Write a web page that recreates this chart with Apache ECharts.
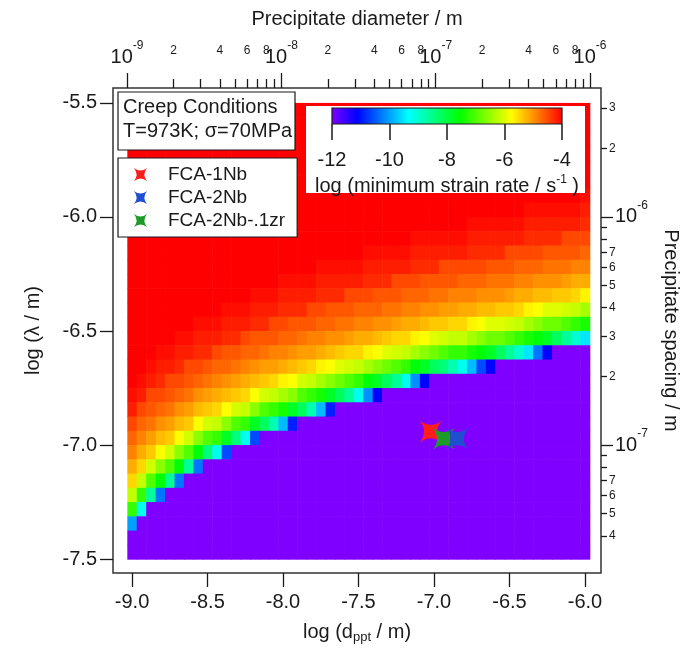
<!DOCTYPE html>
<html><head><meta charset="utf-8">
<script src="https://cdn.jsdelivr.net/npm/echarts@6/dist/echarts.min.js"></script>
<style>html,body{margin:0;padding:0;background:#fff}#c{width:690px;height:649px}</style>
</head><body><div id="c"></div>
<script>
// ---- grid of the map: cell centres ----
const logDiameter = [-9,-8.9375,-8.875,-8.8125,-8.75,-8.6875,-8.625,-8.5625,-8.5,-8.4375,-8.375,-8.3125,-8.25,-8.1875,-8.125,-8.0625,-8,-7.9375,-7.875,-7.8125,-7.75,-7.6875,-7.625,-7.5625,-7.5,-7.4375,-7.375,-7.3125,-7.25,-7.1875,-7.125,-7.0625,-7,-6.9375,-6.875,-6.8125,-6.75,-6.6875,-6.625,-6.5625,-6.5,-6.4375,-6.375,-6.3125,-6.25,-6.1875,-6.125,-6.0625,-6];
const logSpacing = [-5.53125,-5.59375,-5.65625,-5.71875,-5.78125,-5.84375,-5.90625,-5.96875,-6.03125,-6.09375,-6.15625,-6.21875,-6.28125,-6.34375,-6.40625,-6.46875,-6.53125,-6.59375,-6.65625,-6.71875,-6.78125,-6.84375,-6.90625,-6.96875,-7.03125,-7.09375,-7.15625,-7.21875,-7.28125,-7.34375,-7.40625,-7.46875];
const cellWidth = 0.0625, cellHeight = 0.0625;
// ---- log(minimum strain rate) per row (top -> bottom), per column (left -> right) ----
const logStrainRate = [
[-4,-4,-4,-4,-4,-4,-4,-4,-4,-4,-4,-4,-4,-4,-4,-4,-4,-4,-4,-4,-4,-4,-4,-4,-4,-4,-4,-4,-4,-4,-4,-4,-4,-4,-4,-4,-4,-4,-4,-4,-4,-4,-4,-4,-4,-4,-4,-4,-4],
[-4,-4,-4,-4,-4,-4,-4,-4,-4,-4,-4,-4,-4,-4,-4,-4,-4,-4,-4,-4,-4,-4,-4,-4,-4,-4,-4,-4,-4,-4,-4,-4,-4,-4,-4,-4,-4,-4,-4,-4,-4,-4,-4,-4,-4,-4,-4,-4,-4],
[-4,-4,-4,-4,-4,-4,-4,-4,-4,-4,-4,-4,-4,-4,-4,-4,-4,-4,-4,-4,-4,-4,-4,-4,-4,-4,-4,-4,-4,-4,-4,-4,-4,-4,-4,-4,-4,-4,-4,-4,-4,-4,-4,-4,-4,-4,-4,-4,-4],
[-4,-4,-4,-4,-4,-4,-4,-4,-4,-4,-4,-4,-4,-4,-4,-4,-4,-4,-4,-4,-4,-4,-4,-4,-4,-4,-4,-4,-4,-4,-4,-4,-4,-4,-4,-4,-4,-4,-4,-4,-4,-4,-4,-4,-4,-4,-4,-4,-4],
[-4,-4,-4,-4,-4,-4,-4,-4,-4,-4,-4,-4,-4,-4,-4,-4,-4,-4,-4,-4,-4,-4,-4,-4,-4,-4,-4,-4,-4,-4,-4,-4,-4,-4,-4,-4,-4,-4,-4,-4,-4,-4,-4,-4,-4,-4,-4,-4,-4],
[-4,-4,-4,-4,-4,-4,-4,-4,-4,-4,-4,-4,-4,-4,-4,-4,-4,-4,-4,-4,-4,-4,-4,-4,-4,-4,-4,-4,-4,-4,-4,-4,-4,-4,-4,-4,-4,-4,-4,-4,-4,-4,-4,-4,-4,-4,-4,-4,-4],
[-4,-4,-4,-4,-4,-4,-4,-4,-4,-4,-4,-4,-4,-4,-4,-4,-4,-4,-4,-4,-4,-4,-4,-4,-4,-4,-4,-4,-4,-4,-4,-4,-4,-4,-4,-4,-4,-4,-4,-4,-4,-4,-4,-4,-4,-4,-4,-4,-4.1],
[-4,-4,-4,-4,-4,-4,-4,-4,-4,-4,-4,-4,-4,-4,-4,-4,-4,-4,-4,-4,-4,-4,-4,-4,-4,-4,-4,-4,-4,-4,-4,-4,-4,-4,-4,-4,-4,-4,-4,-4,-4,-4,-4.1,-4.1,-4.1,-4.1,-4.1,-4.1,-4.2],
[-4,-4,-4,-4,-4,-4,-4,-4,-4,-4,-4,-4,-4,-4,-4,-4,-4,-4,-4,-4,-4,-4,-4,-4,-4,-4,-4,-4,-4,-4,-4,-4,-4,-4,-4,-4,-4.1,-4.1,-4.1,-4.1,-4.1,-4.1,-4.2,-4.2,-4.2,-4.2,-4.2,-4.2,-4.3],
[-4,-4,-4,-4,-4,-4,-4,-4,-4,-4,-4,-4,-4,-4,-4,-4,-4,-4,-4,-4,-4,-4,-4,-4,-4,-4,-4,-4,-4,-4,-4.1,-4.1,-4.1,-4.1,-4.1,-4.1,-4.2,-4.2,-4.2,-4.2,-4.2,-4.2,-4.3,-4.3,-4.3,-4.3,-4.5,-4.5,-4.5],
[-4,-4,-4,-4,-4,-4,-4,-4,-4,-4,-4,-4,-4,-4,-4,-4,-4,-4,-4,-4,-4,-4,-4,-4,-4,-4.1,-4.1,-4.1,-4.1,-4.1,-4.2,-4.2,-4.2,-4.2,-4.2,-4.2,-4.3,-4.3,-4.3,-4.3,-4.5,-4.5,-4.5,-4.5,-4.6,-4.6,-4.6,-4.6,-4.7],
[-4,-4,-4,-4,-4,-4,-4,-4,-4,-4,-4,-4,-4,-4,-4,-4,-4,-4,-4,-4,-4.1,-4.1,-4.1,-4.1,-4.1,-4.2,-4.2,-4.2,-4.2,-4.2,-4.3,-4.3,-4.3,-4.5,-4.5,-4.5,-4.5,-4.5,-4.6,-4.6,-4.6,-4.7,-4.7,-4.7,-4.8,-4.8,-4.8,-4.9,-4.9],
[-4,-4,-4,-4,-4,-4,-4,-4,-4,-4,-4,-4,-4,-4,-4,-4,-4.1,-4.1,-4.1,-4.1,-4.2,-4.2,-4.2,-4.2,-4.2,-4.3,-4.3,-4.3,-4.5,-4.5,-4.5,-4.6,-4.6,-4.6,-4.6,-4.7,-4.7,-4.7,-4.8,-4.8,-4.8,-4.9,-4.9,-5,-5,-5,-5.1,-5.2,-5.2],
[-4,-4,-4,-4,-4,-4,-4,-4,-4,-4,-4,-4,-4,-4.1,-4.1,-4.1,-4.2,-4.2,-4.2,-4.2,-4.3,-4.3,-4.3,-4.5,-4.5,-4.5,-4.6,-4.6,-4.6,-4.7,-4.7,-4.7,-4.8,-4.8,-4.9,-4.9,-4.9,-5,-5,-5,-5.1,-5.2,-5.2,-5.3,-5.3,-5.4,-5.4,-5.5,-5.7],
[-4,-4,-4,-4,-4,-4,-4,-4,-4,-4,-4.1,-4.1,-4.1,-4.2,-4.2,-4.2,-4.3,-4.3,-4.3,-4.5,-4.5,-4.6,-4.6,-4.6,-4.7,-4.7,-4.7,-4.8,-4.8,-4.9,-4.9,-5,-5,-5.1,-5.1,-5.2,-5.2,-5.3,-5.3,-5.4,-5.4,-5.5,-5.7,-5.8,-6,-6,-6.1,-6.2,-6.4],
[-4,-4,-4,-4,-4,-4,-4,-4.1,-4.1,-4.1,-4.2,-4.2,-4.2,-4.3,-4.3,-4.5,-4.5,-4.6,-4.6,-4.6,-4.7,-4.7,-4.8,-4.8,-4.9,-4.9,-5,-5,-5.1,-5.2,-5.2,-5.3,-5.4,-5.4,-5.5,-5.5,-5.7,-5.8,-6,-6,-6.1,-6.2,-6.4,-6.6,-6.8,-6.8,-7,-7.2,-7.4],
[-4,-4,-4,-4,-4,-4.1,-4.1,-4.2,-4.2,-4.2,-4.3,-4.3,-4.5,-4.6,-4.6,-4.6,-4.7,-4.7,-4.8,-4.9,-4.9,-5,-5,-5.1,-5.2,-5.2,-5.3,-5.4,-5.5,-5.5,-5.7,-5.8,-6,-6.1,-6.2,-6.2,-6.4,-6.6,-6.8,-6.8,-7,-7.2,-7.4,-7.6,-7.8,-8.2,-8.6,-9,-9.5],
[-4,-4,-4,-4.1,-4.1,-4.2,-4.2,-4.3,-4.3,-4.5,-4.6,-4.6,-4.7,-4.7,-4.8,-4.9,-4.9,-5,-5.1,-5.1,-5.2,-5.3,-5.4,-5.5,-5.5,-5.7,-5.8,-6,-6.1,-6.2,-6.4,-6.6,-6.8,-7,-7.2,-7.2,-7.4,-7.6,-7.8,-8.2,-8.6,-9,-9.5,-10.3,-11.1,-12,-12,-12,-12],
[-4,-4,-4.1,-4.2,-4.2,-4.3,-4.5,-4.5,-4.6,-4.7,-4.7,-4.8,-4.9,-5,-5.1,-5.1,-5.2,-5.3,-5.4,-5.5,-5.7,-5.8,-6,-6.1,-6.2,-6.4,-6.6,-6.8,-7,-7.2,-7.6,-7.8,-8.2,-8.4,-8.8,-9.2,-9.8,-10.6,-11.1,-12,-12,-12,-12,-12,-12,-12,-12,-12,-12],
[-4,-4.1,-4.2,-4.3,-4.5,-4.5,-4.6,-4.7,-4.8,-4.9,-5,-5.1,-5.2,-5.3,-5.4,-5.5,-5.7,-5.8,-6.1,-6.2,-6.4,-6.6,-6.8,-7,-7.2,-7.6,-7.8,-8.2,-8.6,-9.2,-10.1,-11.1,-12,-12,-12,-12,-12,-12,-12,-12,-12,-12,-12,-12,-12,-12,-12,-12,-12],
[-4.1,-4.2,-4.5,-4.5,-4.6,-4.7,-4.8,-5,-5.1,-5.2,-5.3,-5.4,-5.5,-5.8,-6.1,-6.2,-6.4,-6.6,-7,-7.2,-7.4,-7.8,-8.2,-8.6,-9.2,-10.1,-11.1,-12,-12,-12,-12,-12,-12,-12,-12,-12,-12,-12,-12,-12,-12,-12,-12,-12,-12,-12,-12,-12,-12],
[-4.2,-4.5,-4.6,-4.7,-4.8,-5,-5.1,-5.3,-5.4,-5.5,-5.8,-6.1,-6.2,-6.6,-7,-7.2,-7.4,-7.8,-8.2,-8.8,-9.8,-10.9,-12,-12,-12,-12,-12,-12,-12,-12,-12,-12,-12,-12,-12,-12,-12,-12,-12,-12,-12,-12,-12,-12,-12,-12,-12,-12,-12],
[-4.5,-4.7,-4.8,-5,-5.1,-5.3,-5.4,-5.8,-6.1,-6.2,-6.6,-7,-7.2,-7.8,-8.2,-8.8,-9.8,-10.9,-12,-12,-12,-12,-12,-12,-12,-12,-12,-12,-12,-12,-12,-12,-12,-12,-12,-12,-12,-12,-12,-12,-12,-12,-12,-12,-12,-12,-12,-12,-12],
[-4.7,-4.9,-5.1,-5.3,-5.4,-5.8,-6.1,-6.6,-7,-7.2,-7.8,-8.4,-9.2,-10.6,-12,-12,-12,-12,-12,-12,-12,-12,-12,-12,-12,-12,-12,-12,-12,-12,-12,-12,-12,-12,-12,-12,-12,-12,-12,-12,-12,-12,-12,-12,-12,-12,-12,-12,-12],
[-4.9,-5.2,-5.4,-5.8,-6.1,-6.6,-7,-7.6,-8.4,-9.2,-10.6,-12,-12,-12,-12,-12,-12,-12,-12,-12,-12,-12,-12,-12,-12,-12,-12,-12,-12,-12,-12,-12,-12,-12,-12,-12,-12,-12,-12,-12,-12,-12,-12,-12,-12,-12,-12,-12,-12],
[-5.2,-5.5,-6.1,-6.6,-7,-7.6,-8.6,-10.3,-12,-12,-12,-12,-12,-12,-12,-12,-12,-12,-12,-12,-12,-12,-12,-12,-12,-12,-12,-12,-12,-12,-12,-12,-12,-12,-12,-12,-12,-12,-12,-12,-12,-12,-12,-12,-12,-12,-12,-12,-12],
[-5.5,-6.2,-7,-7.6,-8.6,-10.3,-12,-12,-12,-12,-12,-12,-12,-12,-12,-12,-12,-12,-12,-12,-12,-12,-12,-12,-12,-12,-12,-12,-12,-12,-12,-12,-12,-12,-12,-12,-12,-12,-12,-12,-12,-12,-12,-12,-12,-12,-12,-12,-12],
[-6.2,-7.2,-8.6,-10.3,-12,-12,-12,-12,-12,-12,-12,-12,-12,-12,-12,-12,-12,-12,-12,-12,-12,-12,-12,-12,-12,-12,-12,-12,-12,-12,-12,-12,-12,-12,-12,-12,-12,-12,-12,-12,-12,-12,-12,-12,-12,-12,-12,-12,-12],
[-7.2,-9.2,-12,-12,-12,-12,-12,-12,-12,-12,-12,-12,-12,-12,-12,-12,-12,-12,-12,-12,-12,-12,-12,-12,-12,-12,-12,-12,-12,-12,-12,-12,-12,-12,-12,-12,-12,-12,-12,-12,-12,-12,-12,-12,-12,-12,-12,-12,-12],
[-10,-12,-12,-12,-12,-12,-12,-12,-12,-12,-12,-12,-12,-12,-12,-12,-12,-12,-12,-12,-12,-12,-12,-12,-12,-12,-12,-12,-12,-12,-12,-12,-12,-12,-12,-12,-12,-12,-12,-12,-12,-12,-12,-12,-12,-12,-12,-12,-12],
[-12,-12,-12,-12,-12,-12,-12,-12,-12,-12,-12,-12,-12,-12,-12,-12,-12,-12,-12,-12,-12,-12,-12,-12,-12,-12,-12,-12,-12,-12,-12,-12,-12,-12,-12,-12,-12,-12,-12,-12,-12,-12,-12,-12,-12,-12,-12,-12,-12],
[-12,-12,-12,-12,-12,-12,-12,-12,-12,-12,-12,-12,-12,-12,-12,-12,-12,-12,-12,-12,-12,-12,-12,-12,-12,-12,-12,-12,-12,-12,-12,-12,-12,-12,-12,-12,-12,-12,-12,-12,-12,-12,-12,-12,-12,-12,-12,-12,-12]
];
// ---- colour scale ----
const colorRange = [-12, -4];
const colorbarTicks = [-12, -10, -8, -6, -4];
const rainbow = ['#8000ff','#0000ff','#0080ff','#00ffff','#00ff80','#00ff00','#80ff00','#ffff00','#ff8000','#ff0000'];
// ---- measured alloys ----
const sampleNames = ['FCA-1Nb', 'FCA-2Nb', 'FCA-2Nb-.1zr'];
const sampleLogD = [-7.022, -6.846, -6.936];
const sampleLogLambda = [-6.941, -6.972, -6.972];
const sampleColors = ['#ff1c1c', '#1f4fd0', '#1c9a2a'];
// ---- axis ticks ----
const bottomTicks = [-9, -8.5, -8, -7.5, -7, -6.5, -6];
const leftTicks = [-7.5, -7, -6.5, -6, -5.5];
const topDecades = [-9, -8, -7, -6];
const topMinorMantissas = [2, 3, 4, 5, 6, 7, 8, 9];
const topLabelMantissas = [2, 4, 6, 8];
const rightDecades = [-7, -6];
const rightMinorTicks = [4e-8,5e-8,6e-8,7e-8,8e-8,9e-8,2e-7,3e-7,4e-7,5e-7,6e-7,7e-7,8e-7,9e-7,2e-6,3e-6];
const rightLabelTicks = [4e-8,5e-8,6e-8,7e-8,2e-7,3e-7,4e-7,5e-7,6e-7,7e-7,2e-6,3e-6];

const FONT = '"Liberation Sans", Arial, sans-serif';
const INK = '#1a1a1a';
// axis ranges (log10 units)
const xMin = -9.126, xMax = -5.894;     // bottom axis
const tMin = -9.091, tMax = -5.929;     // top axis (diameter)
const yMin = -7.561, yMax = -5.4345;    // left + right axes

const topMinorVals = [];
topDecades.slice(0, 3).forEach(d => topMinorMantissas.forEach(m => topMinorVals.push(d + Math.log10(m))));
const topLabelVals = [];
topDecades.slice(0, 3).forEach(d => topLabelMantissas.forEach(m => topLabelVals.push(d + Math.log10(m))));
const rightMinorVals = rightMinorTicks.map(v => Math.log10(v));
const rightLabelVals = rightLabelTicks.map(v => Math.log10(v));
const mantissa = v => String(Math.round(Math.pow(10, v - Math.floor(v + 1e-9))));
const sciRich = {
  b: {fontSize: 20, fontFamily: FONT, color: INK, lineHeight: 34},
  s: {fontSize: 12, fontFamily: FONT, color: INK, lineHeight: 14, verticalAlign: 'top'}
};

const heatData = [];
logSpacing.forEach((y, r) => logDiameter.forEach((x, c) => heatData.push([x, y, logStrainRate[r][c]])));

const starPath = 'path://M0,0Q50,40,100,0Q60,50,100,100Q50,60,0,100Q40,50,0,0Z';

const chart = echarts.init(document.getElementById('c'), null, {renderer: 'canvas'});
const tickStyle = {color: INK, width: 1.3};

chart.setOption({
  animation: false,
  backgroundColor: '#fff',
  textStyle: {fontFamily: FONT},
  grid: [
    {left: 113, top: 88, right: 89, bottom: 74, show: true, borderColor: '#333', borderWidth: 1.5, backgroundColor: '#fff'},
    {left: 332, top: 108, width: 230, height: 16}
  ],
  xAxis: [
    {gridIndex: 0, type: 'value', position: 'bottom', min: xMin, max: xMax,
     axisLine: {show: false}, splitLine: {show: false},
     axisTick: {show: true, customValues: bottomTicks, length: 14, lineStyle: tickStyle},
     axisLabel: {customValues: bottomTicks, formatter: v => v.toFixed(1), fontSize: 20, color: INK, margin: 19, fontFamily: FONT},
     name: 'log (d{sub|ppt} / m)', nameLocation: 'middle', nameGap: 47,
     nameTextStyle: {fontSize: 20, color: INK, fontFamily: FONT, lineHeight: 24,
       rich: {sub: {fontSize: 13, fontFamily: FONT, color: INK, lineHeight: 12, verticalAlign: 'bottom'}}}},
    {gridIndex: 0, type: 'value', position: 'top', min: tMin, max: tMax,
     axisLine: {show: false}, splitLine: {show: false},
     axisTick: {show: true, customValues: topDecades, length: 15, lineStyle: tickStyle},
     axisLabel: {customValues: topDecades, formatter: v => '{b|10}{s|' + Math.round(v) + '}', rich: sciRich, margin: 14},
     name: 'Precipitate diameter / m', nameLocation: 'middle', nameGap: 59,
     nameTextStyle: {fontSize: 20, color: INK, fontFamily: FONT}},
    {gridIndex: 0, type: 'value', position: 'top', min: tMin, max: tMax,
     axisLine: {show: false}, splitLine: {show: false},
     axisTick: {show: true, customValues: topMinorVals, length: 9, lineStyle: tickStyle},
     axisLabel: {customValues: topLabelVals, formatter: mantissa, fontSize: 12, color: INK, margin: 31, fontFamily: FONT}},
    {gridIndex: 1, type: 'value', position: 'bottom', min: colorRange[0], max: colorRange[1], interval: 2, z: 6,
     axisLine: {show: false}, splitLine: {show: false},
     axisTick: {show: true, length: 16, lineStyle: {color: INK, width: 1.5}},
     axisLabel: {fontSize: 20, color: INK, margin: 26, fontFamily: FONT, showMinLabel: true, showMaxLabel: true},
     name: 'log (minimum strain rate / s{sup|-1} )', nameLocation: 'middle', nameGap: 50,
     nameTextStyle: {fontSize: 20, color: INK, fontFamily: FONT, lineHeight: 24,
       rich: {sup: {fontSize: 12, fontFamily: FONT, color: INK, lineHeight: 12, verticalAlign: 'top'}}}}
  ],
  yAxis: [
    {gridIndex: 0, type: 'value', position: 'left', min: yMin, max: yMax,
     axisLine: {show: false}, splitLine: {show: false},
     axisTick: {show: true, customValues: leftTicks, length: 13, lineStyle: tickStyle},
     axisLabel: {customValues: leftTicks, formatter: v => v.toFixed(1), fontSize: 20, color: INK, margin: 16, fontFamily: FONT},
     name: 'log (\u03bb / m)', nameLocation: 'middle', nameRotate: 90, nameGap: 70,
     nameTextStyle: {fontSize: 20, color: INK, fontFamily: FONT}},
    {gridIndex: 0, type: 'value', position: 'right', min: yMin, max: yMax, offset: 0,
     axisLine: {show: false}, splitLine: {show: false},
     axisTick: {show: true, customValues: rightDecades, length: 12, lineStyle: tickStyle},
     axisLabel: {customValues: rightDecades, formatter: v => '{b|10}{s|' + Math.round(v) + '}', rich: sciRich, margin: 14}},
    {gridIndex: 0, type: 'value', position: 'right', min: yMin, max: yMax, offset: 0,
     axisLine: {show: false}, splitLine: {show: false},
     axisTick: {show: true, customValues: rightMinorVals, length: 6, lineStyle: tickStyle},
     axisLabel: {customValues: rightLabelVals, formatter: mantissa, fontSize: 12, color: INK, margin: 8, fontFamily: FONT},
     name: 'Precipitate spacing / m', nameLocation: 'middle', nameRotate: -90, nameGap: 60,
     nameTextStyle: {fontSize: 20, color: INK, fontFamily: FONT}},
    {gridIndex: 1, type: 'value', min: 0, max: 1, show: false}
  ],
  visualMap: {type: 'continuous', show: false, seriesIndex: 0, dimension: 2,
    min: colorRange[0], max: colorRange[1], inRange: {color: rainbow}},
  legend: {
    orient: 'vertical', left: 118, top: 158, z: 6,
    data: sampleNames.map(n => ({name: n, icon: starPath})),
    itemWidth: 13, itemHeight: 13, itemGap: 4,
    padding: [7, 12, 7, 16],
    backgroundColor: '#fff', borderColor: INK, borderWidth: 1.2,
    textStyle: {fontSize: 19, color: INK, fontFamily: FONT, padding: [0, 0, 0, 16]}
  },
  graphic: [
    {type: 'rect', z: 3, shape: {x: 306, y: 106, width: 279, height: 87}, style: {fill: '#fff'}},
    {type: 'rect', z: 10, shape: {x: 118, y: 92, width: 177, height: 58}, style: {fill: '#fff', stroke: INK, lineWidth: 1.2}},
    {type: 'text', z: 11, x: 123, y: 97, style: {text: 'Creep Conditions', font: '20px ' + FONT, fill: INK}},
    {type: 'text', z: 11, x: 123, y: 121, style: {text: 'T=973K; \u03c3=70MPa', font: '20px ' + FONT, fill: INK}}
  ],
  series: [
    {type: 'custom', xAxisIndex: 0, yAxisIndex: 0, data: heatData, clip: true, z: 2,
     renderItem: (params, api) => {
       const x = api.value(0), y = api.value(1);
       const p0 = api.coord([x - cellWidth / 2, y + cellHeight / 2]);
       const p1 = api.coord([x + cellWidth / 2, y - cellHeight / 2]);
       return {type: 'rect', shape: {x: p0[0], y: p0[1], width: p1[0] - p0[0] + 0.6, height: p1[1] - p0[1] + 0.6},
               style: {fill: api.visual('color')}};
     }},
    {type: 'custom', xAxisIndex: 3, yAxisIndex: 3, data: [colorRange], z: 6, silent: true,
     renderItem: (params, api) => {
       const p0 = api.coord([api.value(0), 1]);
       const p1 = api.coord([api.value(1), 0]);
       const stops = rainbow.map((c, i) => ({offset: i / (rainbow.length - 1), color: c}));
       return {type: 'rect', shape: {x: p0[0], y: p0[1], width: p1[0] - p0[0], height: p1[1] - p0[1]},
               style: {fill: new echarts.graphic.LinearGradient(0, 0, 1, 0, stops), stroke: INK, lineWidth: 1.2}};
     }},
    {type: 'scatter', name: sampleNames[0], xAxisIndex: 0, yAxisIndex: 0, z: 7, symbol: starPath, symbolSize: 22,
     itemStyle: {color: sampleColors[0], opacity: 1}, data: [[sampleLogD[0], sampleLogLambda[0]]]},
    {type: 'scatter', name: sampleNames[2], xAxisIndex: 0, yAxisIndex: 0, z: 7, symbol: starPath, symbolSize: 22,
     itemStyle: {color: sampleColors[2], opacity: 1}, data: [[sampleLogD[2], sampleLogLambda[2]]]},
    {type: 'scatter', name: sampleNames[1], xAxisIndex: 0, yAxisIndex: 0, z: 8, symbol: starPath, symbolSize: 22,
     itemStyle: {color: sampleColors[1], opacity: 1}, data: [[sampleLogD[1], sampleLogLambda[1]]]}
  ]
});
</script></body></html>
